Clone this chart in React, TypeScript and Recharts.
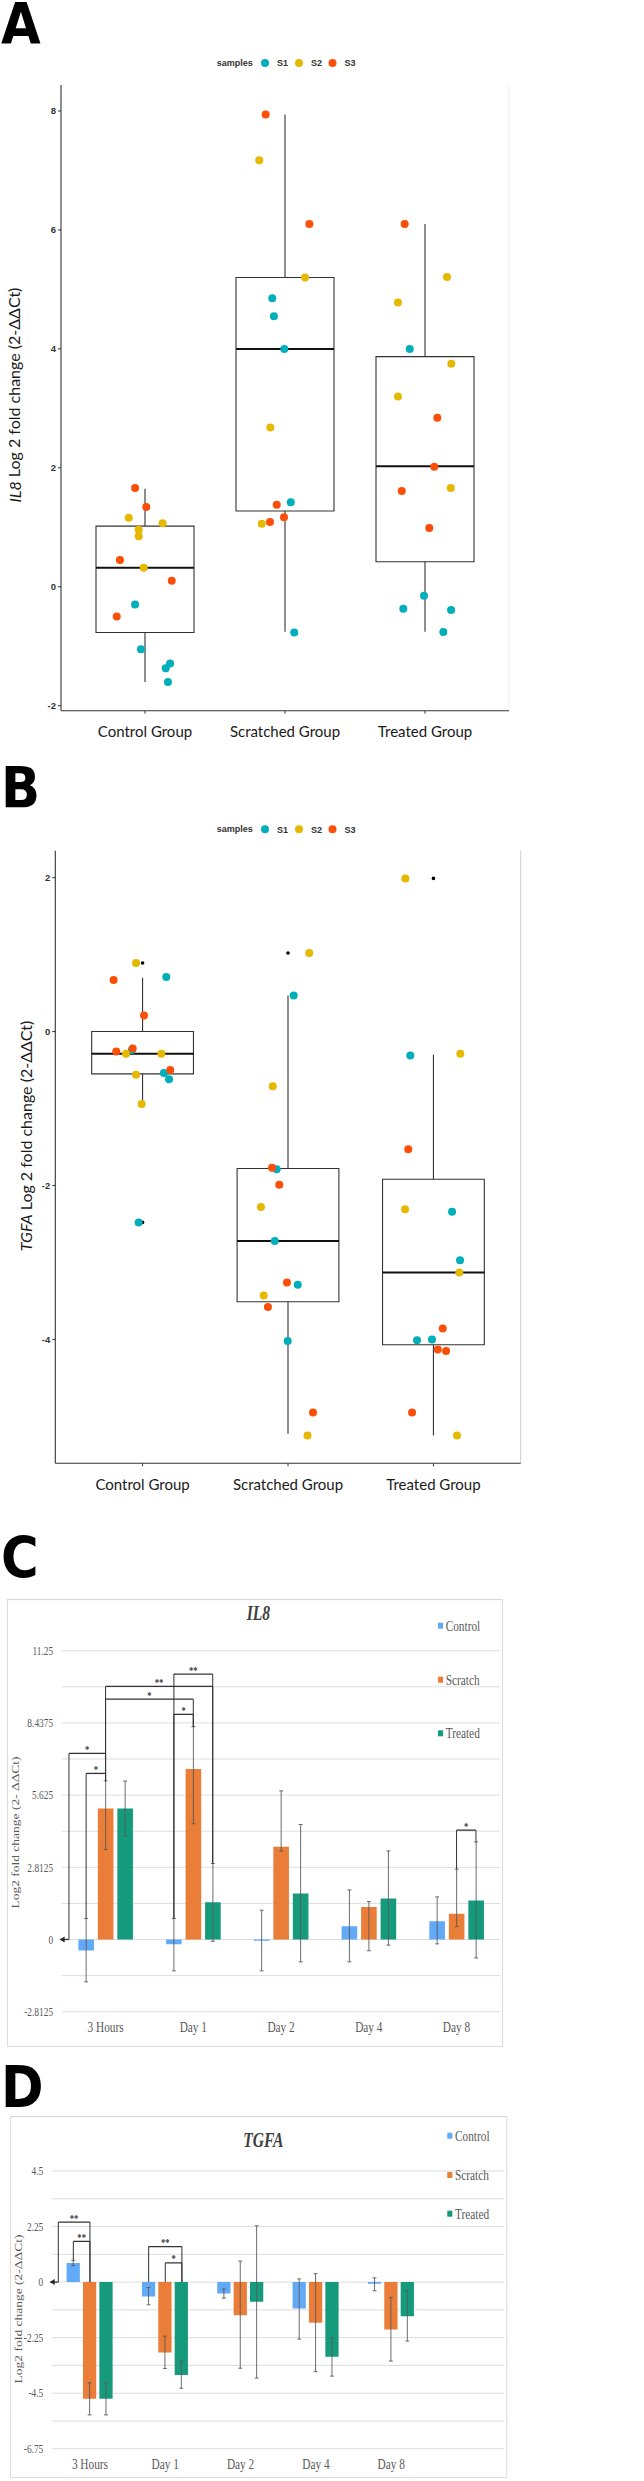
import React from 'react';
import {
  ComposedChart, BarChart, Bar, XAxis, YAxis, Scatter, ReferenceArea, ReferenceLine,
  ReferenceDot, ErrorBar, CartesianGrid,
} from 'recharts';

// ---------------- Panels A & B (box plots) ----------------
const groupLabels = ['Control Group', 'Scratched Group', 'Treated Group'];
const sampleLabels = ['S1', 'S2', 'S3'];
const sampleColors = ['#00AFBB', '#E7B800', '#FC4E07'];

const il8S1 = [
  { x: 0.929, y: -0.3 }, { x: 0.971, y: -1.05 }, { x: 1.179, y: -1.29 }, { x: 1.148, y: -1.37 }, { x: 1.164, y: -1.6 },
  { x: 1.909, y: 4.85 }, { x: 1.921, y: 4.55 }, { x: 1.995, y: 4.0 }, { x: 2.041, y: 1.42 }, { x: 2.066, y: -0.77 },
  { x: 2.891, y: 4.0 }, { x: 2.993, y: -0.15 }, { x: 2.845, y: -0.37 }, { x: 3.186, y: -0.39 }, { x: 3.131, y: -0.76 },
];
const il8S2 = [
  { x: 0.884, y: 1.16 }, { x: 1.126, y: 1.07 }, { x: 0.955, y: 0.96 }, { x: 0.955, y: 0.85 }, { x: 0.991, y: 0.32 },
  { x: 1.816, y: 7.17 }, { x: 2.143, y: 5.2 }, { x: 1.895, y: 2.68 }, { x: 1.834, y: 1.06 },
  { x: 3.157, y: 5.21 }, { x: 2.807, y: 4.78 }, { x: 3.188, y: 3.75 }, { x: 2.807, y: 3.2 }, { x: 3.184, y: 1.66 },
];
const il8S3 = [
  { x: 0.929, y: 1.66 }, { x: 1.009, y: 1.34 }, { x: 0.821, y: 0.45 }, { x: 1.191, y: 0.1 }, { x: 0.798, y: -0.5 },
  { x: 1.862, y: 7.94 }, { x: 2.174, y: 6.1 }, { x: 1.941, y: 1.38 }, { x: 1.993, y: 1.17 }, { x: 1.893, y: 1.09 },
  { x: 2.855, y: 6.1 }, { x: 3.088, y: 2.84 }, { x: 3.066, y: 2.02 }, { x: 2.834, y: 1.61 }, { x: 3.031, y: 0.99 },
];
const il8Boxes = [
  { g: 1, lo: -1.6, q1: -0.77, med: 0.32, q3: 1.02, hi: 1.65 },
  { g: 2, lo: -0.755, q1: 1.275, med: 4.0, q3: 5.2, hi: 7.94 },
  { g: 3, lo: -0.755, q1: 0.42, med: 2.025, q3: 3.87, hi: 6.1 },
];
const il8Outliers: { x: number; y: number }[] = [];

const tgfaS1 = [
  { x: 1.163, y: 0.71 }, { x: 0.927, y: -0.24 }, { x: 1.147, y: -0.54 }, { x: 1.182, y: -0.62 }, { x: 0.973, y: -2.48 },
  { x: 2.039, y: 0.47 }, { x: 1.922, y: -1.79 }, { x: 1.909, y: -2.72 }, { x: 2.067, y: -3.29 }, { x: 1.998, y: -4.02 },
  { x: 2.841, y: -0.31 }, { x: 3.128, y: -2.34 }, { x: 3.183, y: -2.97 }, { x: 2.887, y: -4.01 }, { x: 2.99, y: -4.0 },
];
const tgfaS2 = [
  { x: 0.955, y: 0.89 }, { x: 0.886, y: -0.29 }, { x: 1.129, y: -0.29 }, { x: 0.955, y: -0.56 }, { x: 0.994, y: -0.94 },
  { x: 2.146, y: 1.02 }, { x: 1.895, y: -0.71 }, { x: 1.814, y: -2.28 }, { x: 1.833, y: -3.43 }, { x: 2.134, y: -5.25 },
  { x: 2.807, y: 1.99 }, { x: 3.185, y: -0.29 }, { x: 2.805, y: -2.31 }, { x: 3.178, y: -3.13 }, { x: 3.162, y: -5.25 },
];
const tgfaS3 = [
  { x: 0.801, y: 0.67 }, { x: 1.01, y: 0.21 }, { x: 0.932, y: -0.22 }, { x: 0.819, y: -0.26 }, { x: 1.19, y: -0.5 },
  { x: 1.89, y: -1.77 }, { x: 1.94, y: -1.99 }, { x: 1.993, y: -3.26 }, { x: 1.862, y: -3.58 }, { x: 2.172, y: -4.95 },
  { x: 2.827, y: -1.53 }, { x: 3.064, y: -3.86 }, { x: 3.03, y: -4.13 }, { x: 3.087, y: -4.15 }, { x: 2.853, y: -4.95 },
];
const tgfaBoxes = [
  { g: 1, lo: -0.94, q1: -0.55, med: -0.29, q3: 0.0, hi: 0.7 },
  { g: 2, lo: -5.23, q1: -3.51, med: -2.72, q3: -1.78, hi: 0.47 },
  { g: 3, lo: -5.25, q1: -4.07, med: -3.13, q3: -1.92, hi: -0.3 },
];
const tgfaOutliers = [{ x: 1, y: 0.89 }, { x: 1, y: -2.48 }, { x: 2, y: 1.02 }, { x: 3, y: 1.99 }];

const il8BoxTicks = [-2, 0, 2, 4, 6, 8];
const tgfaBoxTicks = [-4, -2, 0, 2];

// ---------------- Panels C & D (bar charts) ----------------
const seriesNames = ['Control', 'Scratch', 'Treated'];
const seriesColors = ['#62A9F6', '#EA7D37', '#159A7C'];

const il8Days = ['3 Hours', 'Day 1', 'Day 2', 'Day 4', 'Day 8'];
const il8Control = [-0.43, -0.19, -0.05, 0.52, 0.71];
const il8Scratch = [5.1, 6.64, 3.61, 1.27, 1.0];
const il8Treated = [5.1, 1.45, 1.79, 1.6, 1.52];
const il8ControlErr = [[1.22, 1.25], [1.03, 1.01], [1.17, 1.19], [1.39, 1.41], [0.88, 0.95]];
const il8ScratchErr = [[1.59, 1.08], [2.13, 1.65], [0.16, 2.18], [1.71, 0.21], [0.5, 1.74]];
const il8TreatedErr = [[1.06, 1.07], [1.52, 1.51], [2.66, 2.69], [1.82, 1.85], [2.24, 2.28]];
const il8BarTicks = [-2.8125, -1.40625, 0, 1.40625, 2.8125, 4.21875, 5.625, 7.03125, 8.4375, 9.84375, 11.25];

const tgfaDays = ['3 Hours', 'Day 1', 'Day 2', 'Day 4', 'Day 8', ''];
const tgfaControl = [0.77, -0.58, -0.46, -1.07, -0.07, null];
const tgfaScratch = [-4.73, -2.85, -1.34, -1.65, -1.92, null];
const tgfaTreated = [-4.73, -3.76, -0.8, -3.03, -1.38, null];
const tgfaControlErr = [[0.1, 0.11], [0.34, 0.36], [0.19, 0.18], [1.24, 1.2], [0.28, 0.24], null];
const tgfaScratchErr = [[0.65, 0.65], [0.65, 0.66], [2.15, 2.19], [1.98, 1.99], [1.28, 1.3], null];
const tgfaTreatedErr = [[0.65, 0.65], [0.54, 0.56], [3.09, 3.08], [0.78, 0.77], [1.01, 1.04], null];
const tgfaBarTicks = [-6.75, -5.625, -4.5, -3.375, -2.25, -1.125, 0, 1.125, 2.25, 3.375, 4.5];

// bar centre within category (in category units) for series k
const OFF_C = 0.2213;
const OFF_D = 0.2205;
const bxC = (cat: number, k: number) => cat + 0.5 + (k - 1) * OFF_C;
const bxD = (cat: number, k: number) => cat + 0.5 + (k - 1) * OFF_D;

const il8Brackets = [
  { xl: 0.083, xr: bxC(0, 1), top: 7.25, legL: 0, legR: 6.18, label: '*', arrowTo: -0.02 },
  { xl: bxC(0, 0), xr: bxC(0, 1), top: 6.47, legL: 0.82, legR: 6.18, label: '*' },
  { xl: bxC(0, 1), xr: bxC(1, 1), top: 9.36, legL: 6.18, legR: 8.29, label: '*' },
  { xl: bxC(0, 1), xr: bxC(1, 2), top: 9.86, legL: 6.18, legR: 2.96, label: '**' },
  { xl: bxC(1, 0), xr: bxC(1, 2), top: 10.34, legL: 0.82, legR: 2.96, label: '**' },
  { xl: bxC(1, 0), xr: bxC(1, 1), top: 8.77, legL: 0.82, legR: 8.29, label: '*' },
  { xl: bxC(4, 1), xr: bxC(4, 2), top: 4.26, legL: 2.74, legR: 3.8, label: '*' },
];
const tgfaBrackets = [
  { xl: 0.08, xr: bxD(0, 1), top: 2.43, legL: 0, legR: 0, label: '**', arrowTo: -0.03 },
  { xl: bxD(0, 0), xr: bxD(0, 1), top: 1.65, legL: 0.88, legR: 0, label: '**' },
  { xl: bxD(1, 0), xr: bxD(1, 2), top: 1.44, legL: 0, legR: 0, label: '**' },
  { xl: bxD(1, 1), xr: bxD(1, 2), top: 0.78, legL: 0, legR: 0, label: '*' },
];

const il8BarData = il8Days.map((d, i) => ({
  pos: i + 0.5, day: d,
  control: il8Control[i], controlErr: il8ControlErr[i],
  scratch: il8Scratch[i], scratchErr: il8ScratchErr[i],
  treated: il8Treated[i], treatedErr: il8TreatedErr[i],
}));
const tgfaBarData = tgfaDays.map((d, i) => ({
  pos: i + 0.5, day: d,
  control: tgfaControl[i], controlErr: tgfaControlErr[i] ?? undefined,
  scratch: tgfaScratch[i], scratchErr: tgfaScratchErr[i] ?? undefined,
  treated: tgfaTreated[i], treatedErr: tgfaTreatedErr[i] ?? undefined,
}));

const S = 0.78; // horizontal squeeze of the Excel panels

function BoxPanel(props: any) {
  const { top, width, height, margin, yAxisWidth, xAxisHeight, yDomain, yTicks, series, boxes, outliers, edgeColor } = props;
  const els: any[] = [];
  boxes.forEach((b: any, i: number) => {
    els.push(
      <ReferenceLine key={`wu${i}`} segment={[{ x: b.g, y: b.q3 }, { x: b.g, y: b.hi }]} stroke="#333" strokeWidth={1.1} ifOverflow="visible" />,
      <ReferenceLine key={`wl${i}`} segment={[{ x: b.g, y: b.lo }, { x: b.g, y: b.q1 }]} stroke="#333" strokeWidth={1.1} ifOverflow="visible" />,
      <ReferenceArea key={`bx${i}`} x1={b.g - 0.35} x2={b.g + 0.35} y1={b.q1} y2={b.q3} fill="none" fillOpacity={0} stroke="#333" strokeWidth={1.1} ifOverflow="visible" />,
      <ReferenceLine key={`md${i}`} segment={[{ x: b.g - 0.35, y: b.med }, { x: b.g + 0.35, y: b.med }]} stroke="#111" strokeWidth={2} ifOverflow="visible" />,
    );
  });
  return (
    <div style={{ position: 'absolute', left: 0, top }}>
      <ComposedChart width={width} height={height} margin={margin}>
        <XAxis type="number" dataKey="x" domain={[0.4, 3.6]} ticks={[1, 2, 3]} interval={0} allowDataOverflow
          tickFormatter={(v: number) => groupLabels[Math.round(v) - 1]} height={xAxisHeight}
          tickSize={3} tickMargin={13} axisLine={{ stroke: '#333', strokeWidth: 1.1 }} tickLine={{ stroke: '#333' }}
          tick={{ fontFamily: 'Lato', fontSize: 15, fill: '#1a1a1a' }} />
        <YAxis type="number" dataKey="y" domain={yDomain} ticks={yTicks} interval={0} allowDataOverflow width={yAxisWidth}
          tickSize={3} tickMargin={2} axisLine={{ stroke: '#333', strokeWidth: 1.1 }} tickLine={{ stroke: '#333' }}
          tick={{ fontFamily: 'Liberation Sans', fontSize: 9.5, fontWeight: 'bold', fill: '#333' }} />
        <ReferenceLine x={3.6} stroke={edgeColor} strokeWidth={1} ifOverflow="visible" />
        {els}
        <Scatter data={outliers} isAnimationActive={false}
          shape={(p: any) => <circle cx={p.cx} cy={p.cy} r={1.8} fill="#000" />} />
        {series.map((pts: any[], i: number) => (
          <Scatter key={sampleLabels[i]} name={sampleLabels[i]} data={pts} isAnimationActive={false}
            shape={(p: any) => <circle cx={p.cx} cy={p.cy} r={4} fill={sampleColors[i]} />} />
        ))}
      </ComposedChart>
    </div>
  );
}

function BarPanel(props: any) {
  const { left, top, dispW, height, plotTop, plotBottom, plotLeftU, rightU, data, days, yDomain, yTicks, labelStep, nCats,
    brackets, barGap, yTickMargin, xTickMargin, title, titleX, titleY, legendSqX, legendTextX, legendYs,
    yLabel, yLabelX, yLabelY } = props;
  const W = dispW / S;
  const keys = ['control', 'scratch', 'treated'];
  const xTicks = days.map((_: string, i: number) => i + 0.5);
  const refs: any[] = [];
  brackets.forEach((b: any, i: number) => {
    const st = { stroke: '#333', strokeWidth: 1.3, ifOverflow: 'visible' as const };
    refs.push(
      <ReferenceLine key={`l${i}`} {...st} segment={[{ x: b.xl, y: b.legL }, { x: b.xl, y: b.top }]} />,
      <ReferenceLine key={`t${i}`} {...st} segment={[{ x: b.xl, y: b.top }, { x: b.xr, y: b.top }]} />,
      <ReferenceLine key={`r${i}`} {...st} segment={[{ x: b.xr, y: b.top }, { x: b.xr, y: b.legR }]} />,
      <ReferenceDot key={`s${i}`} x={(b.xl + b.xr) / 2} y={b.top} ifOverflow="visible"
        shape={(p: any) => (
          <text x={p.cx} y={p.cy - 0.5} textAnchor="middle" fontFamily="Liberation Serif" fontWeight="bold" fontSize={11} fill="#333">{b.label}</text>
        )} />,
    );
    if (b.arrowTo !== undefined) {
      refs.push(
        <ReferenceLine key={`a${i}`} {...st} segment={[{ x: b.xl, y: 0 }, { x: b.arrowTo, y: 0 }]} />,
        <ReferenceDot key={`ah${i}`} x={b.arrowTo} y={0} ifOverflow="visible"
          shape={(p: any) => <polygon points={`${p.cx},${p.cy} ${p.cx + 6},${p.cy - 3} ${p.cx + 6},${p.cy + 3}`} fill="#222" />} />,
      );
    }
  });
  return (
    <div style={{ position: 'absolute', left, top, width: W, height, transform: `scaleX(${S})`, transformOrigin: '0 0' }}>
      <BarChart width={W} height={height} data={data} margin={{ top: plotTop, right: rightU, left: 0, bottom: 0 }}
        barCategoryGap="19%" barGap={barGap}>
        <CartesianGrid vertical={false} stroke="#d9d9d9" strokeWidth={1} />
        <XAxis type="number" dataKey="pos" domain={[0, nCats]} ticks={xTicks} allowDataOverflow
          tickFormatter={(v: number) => days[Math.round(v - 0.5)]}
          height={height - plotBottom} axisLine={false} tickLine={false}
          tickSize={6} tickMargin={xTickMargin} interval={0}
          tick={{ fontFamily: 'Liberation Serif', fontSize: 14.5, fill: '#595959' }} />
        <YAxis type="number" domain={yDomain} ticks={yTicks} interval={0} allowDataOverflow width={plotLeftU}
          axisLine={false} tickLine={false} tickSize={6} tickMargin={yTickMargin}
          tickFormatter={(v: number) => (Math.abs(v / labelStep - Math.round(v / labelStep)) < 1e-6 ? String(v) : '')}
          tick={{ fontFamily: 'Liberation Serif', fontSize: 12, fill: '#595959' }} />
        {keys.map((k, i) => (
          <Bar key={k} dataKey={k} name={seriesNames[i]} fill={seriesColors[i]} isAnimationActive={false}>
            <ErrorBar dataKey={`${k}Err`} width={2.5} stroke="#595959" strokeWidth={1} direction="y" />
          </Bar>
        ))}
        {refs}
      </BarChart>
      <svg width={W} height={height} style={{ position: 'absolute', left: 0, top: 0, pointerEvents: 'none' }}>
        <rect x={0.5} y={0.5} width={W - 1} height={height - 1} fill="none" stroke="#d9d9d9" strokeWidth={1.3} />
        <text x={titleX} y={titleY} textAnchor="middle" fontFamily="Liberation Serif" fontStyle="italic" fontWeight="bold"
          fontSize={20} fill="#404040">{title}</text>
        {seriesNames.map((n, i) => (
          <g key={n}>
            <rect x={legendSqX} y={legendYs[i] - 3} width={6.5} height={6} fill={seriesColors[i]} />
            <text x={legendTextX} y={legendYs[i] + 5} fontFamily="Liberation Serif" fontSize={14.5} fill="#595959">{n}</text>
          </g>
        ))}
        <text transform={`translate(${yLabelX},${yLabelY}) rotate(-90)`} textAnchor="middle" dominantBaseline="central"
          fontFamily="Liberation Serif" fontSize={13.5} fill="#595959">{yLabel}</text>
      </svg>
    </div>
  );
}

function SampleLegend({ y }: { y: number }) {
  const xs = [{ dot: 265, txt: 277 }, { dot: 299, txt: 311 }, { dot: 332.5, txt: 344.5 }];
  return (
    <g>
      <text x={216.7} y={y + 3} fontFamily="Liberation Sans" fontWeight="bold" fontSize={9} fill="#333">samples</text>
      {sampleLabels.map((s, i) => (
        <g key={s}>
          <circle cx={xs[i].dot} cy={y} r={4} fill={sampleColors[i]} />
          <text x={xs[i].txt} y={y + 3.3} fontFamily="Liberation Sans" fontWeight="bold" fontSize={9} fill="#333">{s}</text>
        </g>
      ))}
    </g>
  );
}

export default function App() {
  const letter = { fontFamily: "'Liberation Sans Narrow', 'DejaVu Sans Condensed', Arial", fontWeight: 'bold' as const, fontSize: 57, fill: '#000' };
  return (
    <div style={{ position: 'absolute', left: 0, top: 0, width: 644, height: 2481, background: '#fff', overflow: 'hidden' }}>
      <BoxPanel top={0} width={520} height={770} margin={{ top: 85, right: 11, left: 0, bottom: 0 }}
        yAxisWidth={61} xAxisHeight={59.3} yDomain={[-2.084, 8.437]} yTicks={il8BoxTicks}
        series={[il8S1, il8S2, il8S3]} boxes={il8Boxes} outliers={il8Outliers} edgeColor="#eeeeee" />
      <BoxPanel top={770} width={530} height={760} margin={{ top: 80.7, right: 9.3, left: 0, bottom: 0 }}
        yAxisWidth={55.3} xAxisHeight={66.7} yDomain={[-5.61, 2.35]} yTicks={tgfaBoxTicks}
        series={[tgfaS1, tgfaS2, tgfaS3]} boxes={tgfaBoxes} outliers={tgfaOutliers} edgeColor="#cfcfcf" />
      <BarPanel left={7.3} top={1599} dispW={496} height={448.3} plotTop={51.7} plotBottom={412.7}
        plotLeftU={70.1} rightU={3.3} data={il8BarData} days={il8Days} yDomain={[-2.8125, 11.25]} yTicks={il8BarTicks}
        labelStep={2.8125} nCats={5} brackets={il8Brackets} barGap={5} yTickMargin={5} xTickMargin={4.5}
        title="IL8" titleX={322.3} titleY={21} legendSqX={552.6} legendTextX={562.4} legendYs={[26.7, 80.7, 134.3]}
        yLabel="Log2 fold change (2- ΔΔCt)" yLabelX={10.8} yLabelY={233.5} />
      <BarPanel left={10} top={2116} dispW={497.3} height={362.3} plotTop={55} plotBottom={332.7}
        plotLeftU={54.2} rightU={3.9} data={tgfaBarData} days={tgfaDays} yDomain={[-6.75, 4.5]} yTicks={tgfaBarTicks}
        labelStep={2.25} nCats={6} brackets={tgfaBrackets} barGap={4} yTickMargin={5.5} xTickMargin={4}
        title="TGFA" titleX={324.8} titleY={31.3} legendSqX={560.6} legendTextX={570.5} legendYs={[19.7, 59, 97.7]}
        yLabel="Log2 fold change (2-ΔΔCt)" yLabelX={10.6} yLabelY={193} />
      <svg width={644} height={2481} style={{ position: 'absolute', left: 0, top: 0, pointerEvents: 'none' }}>
        <text x={1} y={44} {...letter}>A</text>
        <text x={1} y={808} {...letter}>B</text>
        <text x={1} y={1578} {...letter}>C</text>
        <text x={1} y={2107} {...letter}>D</text>
        <SampleLegend y={63} />
        <SampleLegend y={829.3} />
        <text transform="translate(13.5,395) rotate(-90)" textAnchor="middle" dominantBaseline="central"
          fontFamily="Lato" fontSize={16} fill="#1a1a1a">
          <tspan fontStyle="italic">IL8</tspan> Log 2 fold change (2-ΔΔCt)
        </text>
        <text transform="translate(25,1136) rotate(-90)" textAnchor="middle" dominantBaseline="central"
          fontFamily="Lato" fontSize={16} fill="#1a1a1a">
          <tspan fontStyle="italic">TGFA</tspan> Log 2 fold change (2-ΔΔCt)
        </text>
      </svg>
    </div>
  );
}
